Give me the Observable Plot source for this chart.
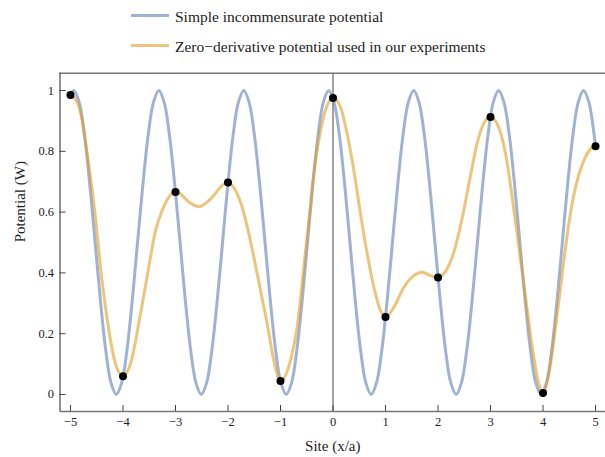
<!DOCTYPE html>
<html><head><meta charset="utf-8">
<script src="https://cdn.jsdelivr.net/npm/d3@7"></script>
<script src="https://cdn.jsdelivr.net/npm/@observablehq/plot@0.6"></script>
<style>
body{margin:0;background:#fff;font-family:"Liberation Serif","Times New Roman",serif;}
#legend{position:relative;width:605px;height:62px;}
.sw{position:absolute;left:131px;width:38px;height:3px;}
.lt{position:absolute;left:175px;font-size:15.5px;line-height:15.5px;color:#222;white-space:nowrap;}
</style></head><body>
<div id="legend"></div>
<div id="chart"></div>
<script>
// ---- data ----
const seriesNames = ["Simple incommensurate potential", "Zero\u2212derivative potential used in our experiments"];
const blueX = [-5.000, -4.936, -4.835, -4.734, -4.633, -4.531, -4.430, -4.329, -4.228, -4.127, -4.026, -3.925, -3.824, -3.723, -3.621, -3.520, -3.419,
  -3.318, -3.217, -3.116, -3.015, -2.913, -2.812, -2.711, -2.610, -2.509, -2.408, -2.307, -2.206, -2.104, -2.003, -1.902, -1.801,
  -1.700, -1.599, -1.498, -1.396, -1.295, -1.194, -1.093, -0.992, -0.891, -0.790, -0.689, -0.587, -0.486, -0.385, -0.284, -0.183,
  -0.082, 0.019, 0.121, 0.222, 0.323, 0.424, 0.525, 0.626, 0.727, 0.828, 0.930, 1.031, 1.132, 1.233, 1.334, 1.435,
  1.536, 1.637, 1.739, 1.840, 1.941, 2.042, 2.143, 2.244, 2.345, 2.446, 2.548, 2.649, 2.750, 2.851, 2.952, 3.053,
  3.154, 3.255, 3.357, 3.458, 3.559, 3.660, 3.761, 3.862, 3.963, 4.064, 4.166, 4.267, 4.368, 4.469, 4.570, 4.671,
  4.772, 4.873, 4.974, 5.000];
const blueY = [0.985,
  1, .962, .854, .691, .5, .309, .146, .038, 0, .038, .146, .309, .5, .691, .854, .962,
  1, .962, .854, .691, .5, .309, .146, .038, 0, .038, .146, .309, .5, .691, .854, .962,
  1, .962, .854, .691, .5, .309, .146, .038, 0, .038, .146, .309, .5, .691, .854, .962,
  1, .962, .854, .691, .5, .309, .146, .038, 0, .038, .146, .309, .5, .691, .854, .962,
  1, .962, .854, .691, .5, .309, .146, .038, 0, .038, .146, .309, .5, .691, .854, .962,
  1, .962, .854, .691, .5, .309, .146, .038, 0, .038, .146, .309, .5, .691, .854, .962,
  1, .962, .854, 0.817];
const orangeX = [-5.000, -4.873, -4.777, -4.682, -4.587, -4.505, -4.429, -4.333, -4.238, -4.143, -4.000,
  -3.857, -3.667, -3.527, -3.381, -3.254, -3.127, -3.000,
  -2.905, -2.746, -2.543, -2.397, -2.270, -2.110, -2.000,
  -1.857, -1.730, -1.603, -1.508, -1.381, -1.254, -1.127, -1.000,
  -0.810, -0.683, -0.556, -0.460, -0.365, -0.238, -0.111, 0.000,
  0.143, 0.270, 0.397, 0.524, 0.651, 0.778, 0.905, 1.000,
  1.159, 1.349, 1.540, 1.700, 1.857, 2.000,
  2.143, 2.305, 2.460, 2.619, 2.750, 2.880, 3.000,
  3.127, 3.286, 3.413, 3.540, 3.667, 3.794, 3.890, 4.000,
  4.111, 4.238, 4.365, 4.490, 4.619, 4.778, 4.905, 5.000];
const orangeY = [0.985, 0.962, 0.901, 0.792, 0.671, 0.550, 0.419, 0.287, 0.178, 0.101, 0.060,
  0.101, 0.265, 0.401, 0.539, 0.605, 0.649, 0.666,
  0.660, 0.633, 0.618, 0.633, 0.655, 0.688, 0.697,
  0.671, 0.616, 0.529, 0.452, 0.342, 0.233, 0.112, 0.044,
  0.112, 0.221, 0.419, 0.572, 0.726, 0.868, 0.951, 0.975,
  0.945, 0.857, 0.737, 0.594, 0.463, 0.353, 0.276, 0.255,
  0.287, 0.353, 0.391, 0.402, 0.391, 0.385,
  0.405, 0.470, 0.580, 0.720, 0.830, 0.895, 0.913,
  0.890, 0.792, 0.649, 0.485, 0.320, 0.156, 0.057, 0.005,
  0.068, 0.221, 0.397, 0.561, 0.682, 0.770, 0.808, 0.817];
const sites = [-5, -4, -3, -2, -1, 0, 1, 2, 3, 4, 5];
const siteValues = [0.985, 0.060, 0.666, 0.697, 0.044, 0.975, 0.255, 0.385, 0.913, 0.005, 0.817];
const xTicks = [-5, -4, -3, -2, -1, 0, 1, 2, 3, 4, 5];
const xTickLabels = ["\u22125", "\u22124", "\u22123", "\u22122", "\u22121", "0", "1", "2", "3", "4", "5"];
const yTicks = [0, 0.2, 0.4, 0.6, 0.8, 1];
const yTickLabels = ["0", "0.2", "0.4", "0.6", "0.8", "1"];
const xLabel = "Site (x/a)";
const yLabel = "Potential (W)";

// ---- styling ----
const blueColor = "#5e81b5", orangeColor = "#e19c24", lineOpacity = 0.6;
const xDomain = [-5.2, 5.19], yDomain = [-0.056, 1.057];
const W = 605, H = 395, mT = 10.7, mB = 46, mL = 59.5, mR = 0;
const plotW = W - mL - mR, plotH = H - mT - mB;

// legend
const legend = document.getElementById("legend");
[[blueColor, seriesNames[0], 13.5, 9], [orangeColor, seriesNames[1], 44, 39]].forEach(([c, t, ly, ty]) => {
  const s = document.createElement("div");
  s.className = "sw"; s.style.top = ly + "px"; s.style.background = c; s.style.opacity = lineOpacity;
  legend.appendChild(s);
  const l = document.createElement("div");
  l.className = "lt"; l.style.top = ty + "px"; l.textContent = t;
  legend.appendChild(l);
});

const blue = blueX.map((x, i) => ({x, y: blueY[i]}));
const orange = orangeX.map((x, i) => ({x, y: orangeY[i]}));
const dots = sites.map((x, i) => ({x, y: siteValues[i]}));

const chart = Plot.plot({
  width: W, height: H, marginTop: mT, marginBottom: mB, marginLeft: mL, marginRight: mR,
  style: {fontFamily: "'Liberation Serif', 'Times New Roman', serif", fontSize: "12.5px", color: "#222", background: "white", overflow: "visible"},
  x: {domain: xDomain},
  y: {domain: yDomain},
  marks: [
    Plot.ruleX([0], {stroke: "#444", strokeWidth: 1}),
    Plot.line(blue, {x: "x", y: "y", stroke: blueColor, strokeOpacity: lineOpacity, strokeWidth: 3, curve: "catmull-rom"}),
    Plot.line(orange, {x: "x", y: "y", stroke: orangeColor, strokeOpacity: lineOpacity, strokeWidth: 3, curve: "monotone-x"}),
    Plot.dot(dots, {x: "x", y: "y", r: 4, fill: "black"}),
    Plot.ruleY([yDomain[1]], {stroke: "#777", strokeWidth: 1.5}),
    Plot.ruleY([yDomain[0]], {stroke: "#777", strokeWidth: 1.5}),
    Plot.ruleX([xDomain[0]], {stroke: "#222", strokeWidth: 1}),
    Plot.ruleX(xTicks, {x: d => d, insetTop: plotH - 6, stroke: "#444", strokeWidth: 1}),
    Plot.ruleY(yTicks, {y: d => d, insetRight: plotW - 6, stroke: "#444", strokeWidth: 1}),
    Plot.axisX({ticks: xTicks, tickSize: 0, tickPadding: 6, tickFormat: d => xTickLabels[xTicks.indexOf(d)], label: null}),
    Plot.axisY({ticks: yTicks, tickSize: 0, tickPadding: 6, tickFormat: d => yTickLabels[yTicks.indexOf(d)], label: null}),
    Plot.text([xLabel], {frameAnchor: "bottom", dy: 39, fontSize: 15, fill: "#222"}),
    Plot.text([yLabel], {frameAnchor: "left", dx: -40, rotate: -90, fontSize: 15, fill: "#222"})
  ]
});
document.getElementById("chart").appendChild(chart);
</script>
</body></html>
